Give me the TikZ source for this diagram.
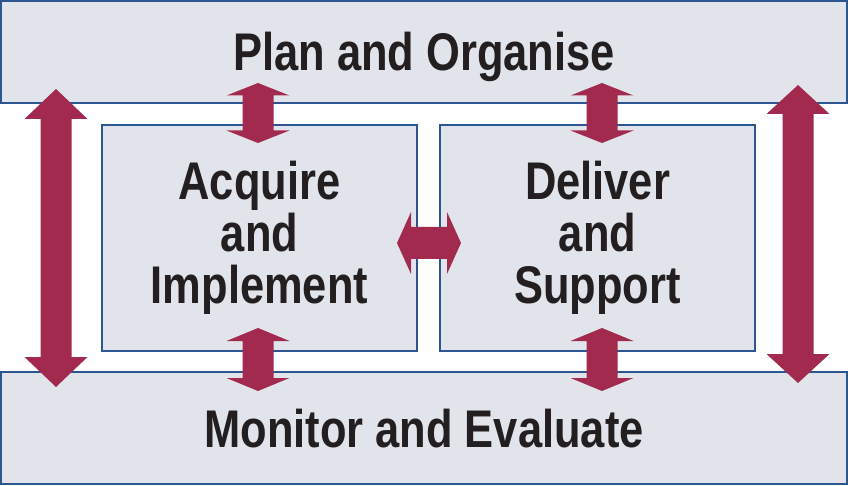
\documentclass[tikz,border=0pt]{standalone}
\usepackage{fontspec}
\setmainfont{Liberation Sans}[FakeStretch=0.82]
\definecolor{boxfill}{HTML}{E1E5EB}
\definecolor{boxline}{HTML}{2C5592}
\definecolor{arrowred}{HTML}{A32A4F}
\definecolor{labeltext}{HTML}{231F20}
% vertical double-headed block arrow: centre x, top tip y, bottom tip y, head length
\newcommand\vblockarrow[4]{%
  \fill[arrowred] (#1,#2) -- (#1+31.5,#2+#4) -- (#1+15.5,#2+#4) -- (#1+15.5,#3-#4)
    -- (#1+31.5,#3-#4) -- (#1,#3) -- (#1-31.5,#3-#4) -- (#1-15.5,#3-#4)
    -- (#1-15.5,#2+#4) -- (#1-31.5,#2+#4) -- cycle;}
% horizontal double-headed block arrow: left tip x, right tip x, centre y, head length
\newcommand\hblockarrow[4]{%
  \fill[arrowred] (#1,#3) -- (#1+#4,#3-31) -- (#1+#4,#3-16) -- (#2-#4,#3-16)
    -- (#2-#4,#3-31) -- (#2,#3) -- (#2-#4,#3+31) -- (#2-#4,#3+16)
    -- (#1+#4,#3+16) -- (#1+#4,#3+31) -- cycle;}
\tikzset{
  stagebox/.style={draw=boxline, line width=1.6pt, fill=boxfill, inner sep=0pt,
    text=labeltext, align=center, text height=38pt, text depth=0pt,
    font={\fontsize{53}{52}\selectfont\bfseries}},
  tallbox/.style={stagebox, minimum width=315pt, minimum height=226pt,
    text height=142pt, text depth=12pt},
}
\begin{document}
\begin{tikzpicture}[x=1pt,y=-1pt]
  \useasboundingbox (0,0) rectangle (848,486);
  \fill[white] (0,0) rectangle (848,486);
  % the four process domains
  \node[stagebox, minimum width=846pt, minimum height=102pt] (po) at (424,52) {Plan and Organise};
  \node[stagebox, minimum width=846pt, minimum height=112pt] (me) at (424,428) {Monitor and Evaluate};
  \node[tallbox] (ai) at (259.5,238) {Acquire\\and\\Implement};
  \node[tallbox] (ds) at (597.5,238) {Deliver\\and\\Support};
  % links between the domains
  \vblockarrow{56}{89}{387}{30}
  \vblockarrow{798}{85}{383}{29}
  \vblockarrow{258}{83}{143}{12.5}
  \vblockarrow{602}{83}{143}{12.5}
  \vblockarrow{258}{328}{391}{13}
  \vblockarrow{602}{328}{391}{13}
  \hblockarrow{397}{461}{243}{14}
\end{tikzpicture}
\end{document}
